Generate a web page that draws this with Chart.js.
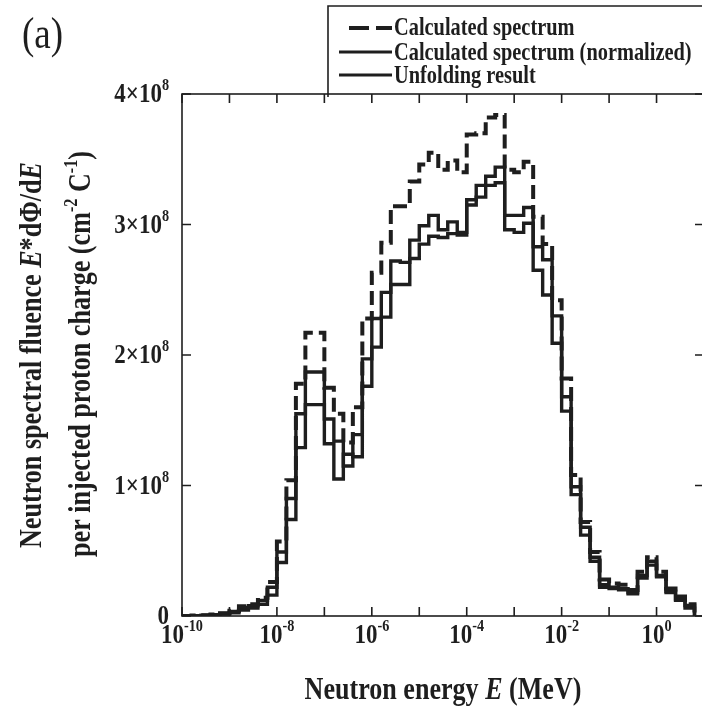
<!DOCTYPE html>
<html>
<head>
<meta charset="utf-8">
<script src="https://cdn.jsdelivr.net/npm/chart.js@4.4.0/dist/chart.umd.min.js"></script>
<style>
    html, body { margin: 0; padding: 0; background: #fff; overflow: hidden; }
    #wrap { position: relative; width: 710px; height: 707px; }
</style>
</head>
<body>
<div id="wrap"><canvas id="spectrumChart" width="710" height="707"></canvas></div>
<script>
// bin edges, log10(E / MeV), 5 bins per decade
const binEdgesLog = [
    -10.0, -9.8, -9.6, -9.4, -9.2, -9.0, -8.8, -8.6, -8.4, -8.2,
    -8.0, -7.8, -7.6, -7.4, -7.2, -7.0, -6.8, -6.6, -6.4, -6.2,
    -6.0, -5.8, -5.6, -5.4, -5.2, -5.0, -4.8, -4.6, -4.4, -4.2,
    -4.0, -3.8, -3.6, -3.4, -3.2, -3.0, -2.8, -2.6, -2.4, -2.2,
    -2.0, -1.8, -1.6, -1.4, -1.2, -1.0, -0.8, -0.6, -0.4, -0.2,
    0.0, 0.2, 0.4, 0.6, 0.8
];

// E*dPhi/dE per bin, in units of 1e8 cm^-2 C^-1
const calculated = [
    0, 0.003, 0.006, 0.012, 0.022, 0.04, 0.075, 0.09, 0.14, 0.26,
    0.57, 1.04, 1.78, 2.17, 2.17, 1.75, 1.55, 1.33, 1.60, 2.28,
    2.63, 2.86, 3.14, 3.14, 3.33, 3.46, 3.55, 3.42, 3.49, 3.40,
    3.69, 3.70, 3.82, 3.84, 3.42, 3.40, 3.48, 3.06, 2.85, 2.42,
    1.82, 1.08, 0.72, 0.49, 0.28, 0.25, 0.24, 0.20, 0.34, 0.45,
    0.34, 0.21, 0.15, 0.09
];
const calculatedNormalized = [
    0, 0.003, 0.005, 0.010, 0.019, 0.035, 0.065, 0.078, 0.12, 0.22,
    0.49, 0.90, 1.55, 1.87, 1.87, 1.51, 1.34, 1.15, 1.39, 1.97,
    2.28, 2.48, 2.72, 2.71, 2.88, 2.99, 3.07, 2.96, 3.02, 2.94,
    3.19, 3.21, 3.30, 3.32, 2.96, 2.94, 3.01, 2.65, 2.46, 2.09,
    1.57, 0.93, 0.62, 0.42, 0.24, 0.21, 0.21, 0.17, 0.29, 0.39,
    0.30, 0.18, 0.13, 0.08
];
const unfolding = [
    0, 0.002, 0.004, 0.008, 0.015, 0.025, 0.045, 0.06, 0.09, 0.16,
    0.41, 0.74, 1.29, 1.62, 1.62, 1.32, 1.05, 1.24, 1.22, 1.76,
    2.06, 2.29, 2.54, 2.54, 2.74, 2.85, 2.91, 2.90, 2.93, 2.92,
    3.15, 3.30, 3.37, 3.44, 3.07, 3.07, 3.13, 2.83, 2.73, 2.30,
    1.68, 0.99, 0.68, 0.45, 0.22, 0.22, 0.20, 0.18, 0.31, 0.42,
    0.31, 0.19, 0.12, 0.06
];

const xTickExponents = [-10, -9, -8, -7, -6, -5, -4, -3, -2, -1, 0, 1];
const xLabelExponents = [-10, -8, -6, -4, -2, 0];
const yTickValues = [0, 1, 2, 3, 4];
const yTickLabels = ['0', '1×10', '2×10', '3×10', '4×10'];
const legendLabels = ['Calculated spectrum', 'Calculated spectrum (normalized)', 'Unfolding result'];

const INK = '#1e1e1e';
const SERIF = '"Liberation Serif", "Times New Roman", serif';
const TEXT_STRETCH = 1.22;   // the original lettering is taller than it is wide

function toSteps(values) {
    const pts = values.map((v, i) => ({ x: Math.pow(10, binEdgesLog[i]), y: v }));
    const end = Math.pow(10, binEdgesLog[values.length]);
    pts.push({ x: end, y: values[values.length - 1] });
    pts.push({ x: end, y: 0 });
    return pts;
}

function segFont(s, size, weight) {
    const sz = s.sup ? size * 0.62 : size;
    return `${s.i ? 'italic ' : ''}${weight} ${sz}px ${SERIF}`;
}

function richWidth(ctx, segs, size, weight = 'bold') {
    let w = 0;
    segs.forEach(s => {
        ctx.font = segFont(s, size, weight);
        w += ctx.measureText(s.t).width;
    });
    return w;
}

function drawRich(ctx, segs, x, y, size, align, weight = 'bold') {
    const w = richWidth(ctx, segs, size, weight);
    let cx = align === 'center' ? x - w / 2 : align === 'right' ? x - w : x;
    ctx.save();
    ctx.translate(0, y);
    ctx.scale(1, TEXT_STRETCH);
    ctx.textAlign = 'left';
    ctx.textBaseline = 'alphabetic';
    segs.forEach(s => {
        ctx.font = segFont(s, size, weight);
        ctx.fillText(s.t, cx, s.sup ? -size * 0.42 : 0);
        cx += ctx.measureText(s.t).width;
    });
    ctx.restore();
}

function fitSize(ctx, segs, target) {
    return 20 * target / richWidth(ctx, segs, 20);
}

const framePlugin = {
    id: 'frameAndLabels',
    afterDraw(chart) {
        const ctx = chart.ctx;
        const xs = chart.scales.x;
        const ys = chart.scales.y;
        const a = chart.chartArea;
        const tick = 9;

        ctx.save();
        ctx.strokeStyle = INK;
        ctx.fillStyle = INK;
        ctx.lineWidth = 1.6;

        // frame
        ctx.strokeRect(a.left, a.top, a.right - a.left, a.bottom - a.top);

        // inward ticks
        ctx.beginPath();
        xTickExponents.forEach(e => {
            const px = xs.getPixelForValue(Math.pow(10, e));
            ctx.moveTo(px, a.bottom); ctx.lineTo(px, a.bottom - tick);
            ctx.moveTo(px, a.top); ctx.lineTo(px, a.top + tick);
        });
        yTickValues.forEach(v => {
            const py = ys.getPixelForValue(v);
            ctx.moveTo(a.left, py); ctx.lineTo(a.left + tick, py);
            ctx.moveTo(a.right, py); ctx.lineTo(a.right - tick, py);
        });
        ctx.stroke();

        // x tick labels
        xLabelExponents.forEach(e => {
            const px = xs.getPixelForValue(Math.pow(10, e));
            drawRich(ctx, [{ t: '10' }, { t: String(e), sup: true }], px, 643, 23, 'center');
        });

        // y tick labels
        yTickValues.forEach((v, i) => {
            const py = ys.getPixelForValue(v);
            const segs = v === 0 ? [{ t: yTickLabels[i] }] : [{ t: yTickLabels[i] }, { t: '8', sup: true }];
            drawRich(ctx, segs, 169, py + 8, 23, 'right');
        });

        // x axis title
        const xTitle = [{ t: 'Neutron energy ' }, { t: 'E', i: true }, { t: ' (MeV)' }];
        drawRich(ctx, xTitle, 443, 699, fitSize(ctx, xTitle, 277), 'center');

        // y axis title, two rotated lines
        const yTitle1 = [{ t: 'Neutron spectral fluence ' }, { t: 'E', i: true }, { t: '*dΦ/d' }, { t: 'E', i: true }];
        const yTitle2 = [{ t: 'per injected proton charge (cm' }, { t: '-2', sup: true }, { t: ' C' }, { t: '-1', sup: true }, { t: ')' }];
        ctx.save();
        ctx.translate(41, 355);
        ctx.rotate(-Math.PI / 2);
        drawRich(ctx, yTitle1, 0, 0, fitSize(ctx, yTitle1, 386), 'center');
        ctx.restore();
        ctx.save();
        ctx.translate(90, 354);
        ctx.rotate(-Math.PI / 2);
        drawRich(ctx, yTitle2, 0, 0, fitSize(ctx, yTitle2, 406), 'center');
        ctx.restore();

        // panel tag
        drawRich(ctx, [{ t: '(a)' }], 22, 48, 37, 'left', 'normal');

        // legend box
        ctx.lineWidth = 1.6;
        ctx.beginPath();
        ctx.moveTo(chart.width, 6);
        ctx.lineTo(328, 6);
        ctx.lineTo(328, a.top + 3);
        ctx.stroke();

        const legSize = fitSize(ctx, [{ t: legendLabels[1] }], 298);
        const legBase = [35, 60, 83];
        legendLabels.forEach((lab, i) => {
            drawRich(ctx, [{ t: lab }], 394, legBase[i], legSize, 'left');
        });
        ctx.lineCap = 'butt';
        ctx.lineWidth = 4;
        ctx.beginPath();
        ctx.moveTo(349, 28); ctx.lineTo(369, 28);
        ctx.moveTo(376, 28); ctx.lineTo(392, 28);
        ctx.stroke();
        ctx.lineWidth = 3;
        ctx.beginPath();
        ctx.moveTo(339, 52); ctx.lineTo(392, 52);
        ctx.moveTo(339, 75); ctx.lineTo(392, 75);
        ctx.stroke();

        ctx.restore();
    }
};

const lineStyle = {
    borderColor: INK,
    pointRadius: 0,
    stepped: 'before',
    fill: false,
    borderCapStyle: 'butt',
    borderJoinStyle: 'miter'
};

new Chart(document.getElementById('spectrumChart'), {
    type: 'line',
    data: {
        datasets: [
            { ...lineStyle, label: legendLabels[0], data: toSteps(calculated), borderWidth: 4, borderDash: [14, 6] },
            { ...lineStyle, label: legendLabels[1], data: toSteps(calculatedNormalized), borderWidth: 3.4 },
            { ...lineStyle, label: legendLabels[2], data: toSteps(unfolding), borderWidth: 3.4 }
        ]
    },
    options: {
        responsive: false,
        animation: false,
        devicePixelRatio: 1,
        layout: { padding: { left: 182, right: 6, top: 94, bottom: 91 } },
        plugins: {
            legend: { display: false },
            tooltip: { enabled: false }
        },
        scales: {
            x: { type: 'logarithmic', min: 1e-10, max: 10, display: false },
            y: { type: 'linear', min: 0, max: 4, display: false }
        }
    },
    plugins: [framePlugin]
});
</script>
</body>
</html>
